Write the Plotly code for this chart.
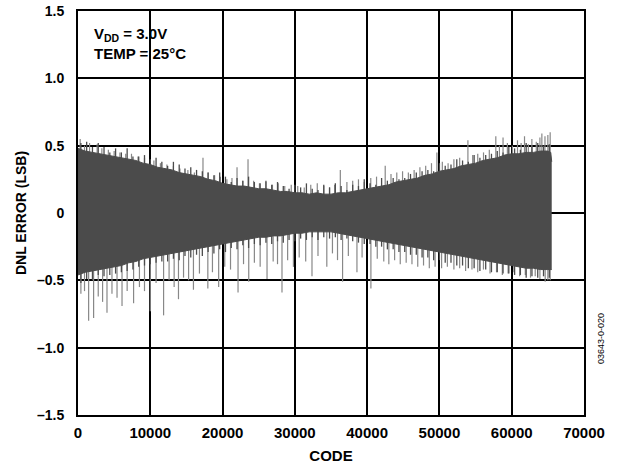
import plotly.graph_objects as go

# ---- data ----
env_codes = [0, 1000, 2000, 3000, 4000, 5000, 6000, 7000, 8000, 9000,
             10000, 11000, 12000, 13000, 14000, 15000, 16000, 17000, 18000, 19000,
             20000, 21000, 22000, 23000, 24000, 25000, 26000, 27000, 28000, 29000,
             30000, 31000, 32000, 33000, 34000, 35000, 36000, 37000, 38000, 39000,
             40000, 41000, 42000, 43000, 44000, 45000, 46000, 47000, 48000, 49000,
             50000, 51000, 52000, 53000, 54000, 55000, 56000, 57000, 58000, 59000,
             60000, 61000, 62000, 63000, 64000, 65000, 65400, 65535]
env_upper = [0.48, 0.46, 0.45, 0.44, 0.43, 0.42, 0.41, 0.40, 0.39, 0.37,
             0.36, 0.34, 0.33, 0.32, 0.30, 0.29, 0.28, 0.27, 0.25, 0.24,
             0.22, 0.21, 0.20, 0.20, 0.19, 0.18, 0.18, 0.17, 0.16, 0.16,
             0.15, 0.15, 0.14, 0.15, 0.14, 0.14, 0.15, 0.15, 0.16, 0.17,
             0.18, 0.19, 0.20, 0.21, 0.23, 0.24, 0.25, 0.26, 0.28, 0.29,
             0.31, 0.32, 0.33, 0.35, 0.36, 0.37, 0.39, 0.40, 0.41, 0.43,
             0.44, 0.44, 0.45, 0.45, 0.46, 0.46, 0.45, 0.38]
env_lower = [-0.46, -0.44, -0.43, -0.42, -0.41, -0.40, -0.39, -0.37, -0.36, -0.34,
             -0.33, -0.32, -0.31, -0.30, -0.29, -0.28, -0.27, -0.26, -0.25, -0.24,
             -0.23, -0.22, -0.21, -0.20, -0.19, -0.18, -0.18, -0.17, -0.17, -0.16,
             -0.15, -0.15, -0.14, -0.14, -0.14, -0.14, -0.15, -0.16, -0.17, -0.18,
             -0.19, -0.20, -0.21, -0.22, -0.23, -0.24, -0.25, -0.26, -0.27, -0.28,
             -0.29, -0.30, -0.31, -0.32, -0.33, -0.34, -0.35, -0.36, -0.37, -0.38,
             -0.39, -0.40, -0.41, -0.41, -0.42, -0.42, -0.42, -0.42]

# short spikes just beyond the dense band (texture of the band edge)
fine_codes = [400, 1200, 2000, 2800, 3600, 4400, 5200, 6000, 6800, 7600,
              8400, 9200, 10000, 10800, 11600, 12400, 13200, 14000, 14800, 15600,
              16400, 17200, 18000, 18800, 19600, 20400, 21200, 22000, 22800, 23600,
              24400, 25200, 26000, 26800, 27600, 28400, 29200, 30000, 30800, 31600,
              32400, 33200, 34000, 34800, 35600, 36400, 37200, 38000, 38800, 39600,
              40400, 41200, 42000, 42800, 43600, 44400, 45200, 46000, 46800, 47600,
              48400, 49200, 50000, 50800, 51600, 52400, 53200, 54000, 54800, 55600,
              56400, 57200, 58000, 58800, 59600, 60400, 61200, 62000, 62800, 63600,
              64400, 65200]
fine_up = [0.52, 0.53, 0.49, 0.52, 0.49, 0.45, 0.48, 0.45, 0.48, 0.42,
           0.42, 0.43, 0.40, 0.41, 0.38, 0.35, 0.38, 0.36, 0.33, 0.34,
           0.32, 0.31, 0.30, 0.28, 0.30, 0.27, 0.23, 0.26, 0.24, 0.27,
           0.23, 0.22, 0.24, 0.21, 0.23, 0.20, 0.18, 0.21, 0.19, 0.22,
           0.18, 0.17, 0.21, 0.19, 0.22, 0.20, 0.17, 0.21, 0.20, 0.25,
           0.22, 0.21, 0.26, 0.24, 0.26, 0.25, 0.26, 0.29, 0.30, 0.31,
           0.32, 0.31, 0.37, 0.35, 0.36, 0.40, 0.39, 0.38, 0.43, 0.41,
           0.43, 0.44, 0.46, 0.45, 0.49, 0.48, 0.47, 0.52, 0.49, 0.52,
           0.50, 0.51]
fine_dn = [-0.52, -0.49, -0.50, -0.46, -0.47, -0.46, -0.45, -0.44, -0.43, -0.42,
           -0.40, -0.39, -0.38, -0.37, -0.36, -0.36, -0.34, -0.35, -0.32, -0.33,
           -0.31, -0.32, -0.29, -0.30, -0.27, -0.29, -0.26, -0.27, -0.24, -0.26,
           -0.23, -0.24, -0.22, -0.23, -0.21, -0.22, -0.20, -0.21, -0.19, -0.20,
           -0.18, -0.20, -0.18, -0.19, -0.18, -0.20, -0.19, -0.21, -0.22, -0.23,
           -0.23, -0.25, -0.25, -0.27, -0.27, -0.29, -0.29, -0.31, -0.31, -0.33,
           -0.33, -0.35, -0.35, -0.37, -0.37, -0.39, -0.39, -0.41, -0.41, -0.43,
           -0.42, -0.44, -0.44, -0.45, -0.45, -0.46, -0.46, -0.48, -0.47, -0.48,
           -0.47, -0.48]

# long isolated spikes
spike_up_codes = [300, 900, 1600, 2650, 3300, 4200, 5000, 5800, 6600, 7400, 8300, 9200,
                  10500, 11400, 12300, 13200, 14100, 15200, 16100, 17290, 18000, 18900,
                  19700, 20600, 21300, 22000, 22800, 23520, 24300, 25100, 26000, 26900,
                  27700, 28600, 29500, 30400, 31300, 32200, 33100, 34000, 34800, 35500,
                  36290, 37200, 38000, 38800, 39600, 40500, 41300, 42500, 43300, 44100,
                  44900, 45700, 46500, 47300, 48100, 48900, 49650, 50400, 51200, 52000,
                  52800, 53940, 54600, 55300, 56100, 56900, 57800, 58300, 58800, 59400,
                  60100, 60800, 61300, 61770, 62300, 62790, 63400, 63900, 64170, 64600,
                  65000, 65320]
spike_up_vals = [0.55, 0.50, 0.52, 0.51, 0.48, 0.47, 0.46, 0.45, 0.44, 0.44, 0.42, 0.41,
                 0.39, 0.37, 0.36, 0.35, 0.33, 0.32, 0.30, 0.41, 0.30, 0.28,
                 0.27, 0.25, 0.26, 0.34, 0.24, 0.40, 0.24, 0.22, 0.23, 0.21,
                 0.22, 0.20, 0.21, 0.20, 0.19, 0.21, 0.22, 0.20, 0.19, 0.21,
                 0.32, 0.23, 0.24, 0.25, 0.23, 0.26, 0.27, 0.35, 0.29, 0.30,
                 0.31, 0.30, 0.32, 0.34, 0.35, 0.37, 0.45, 0.38, 0.37, 0.40,
                 0.41, 0.54, 0.43, 0.44, 0.45, 0.47, 0.57, 0.50, 0.56, 0.52,
                 0.50, 0.54, 0.52, 0.57, 0.51, 0.55, 0.53, 0.56, 0.59, 0.57,
                 0.58, 0.60]
spike_dn_codes = [400, 900, 1470, 2160, 2800, 3400, 4010, 4700, 5400, 6090, 6800, 7690,
                  8500, 9200, 10000, 10800, 11840, 12600, 13300, 13900, 14600, 15300,
                  15970, 16800, 17960, 18600, 19460, 20300, 21100, 22140, 22900, 23620,
                  24400, 25200, 26150, 27000, 27600, 28220, 29000, 29800, 30600, 31500,
                  32370, 33200, 34420, 35200, 35900, 36600, 37400, 38590, 39300, 40520,
                  41400, 42300, 43000, 43800, 44580, 45400, 46200, 47000, 47800, 48600,
                  49400, 50300, 51100, 52000, 52800, 53620, 54500, 55300, 56090, 57000,
                  57900, 58700, 59500, 60300, 61100, 61880, 62600, 63250, 63900, 64630,
                  65000, 65320]
spike_dn_vals = [-0.60, -0.58, -0.80, -0.78, -0.62, -0.66, -0.74, -0.60, -0.63, -0.69, -0.58, -0.67,
                 -0.55, -0.58, -0.73, -0.52, -0.76, -0.50, -0.55, -0.64, -0.48, -0.50,
                 -0.57, -0.45, -0.56, -0.44, -0.55, -0.40, -0.42, -0.59, -0.38, -0.51,
                 -0.37, -0.40, -0.49, -0.36, -0.38, -0.59, -0.35, -0.40, -0.33, -0.36,
                 -0.47, -0.32, -0.40, -0.30, -0.35, -0.51, -0.32, -0.44, -0.33, -0.56,
                 -0.34, -0.36, -0.38, -0.35, -0.38, -0.37, -0.38, -0.40, -0.39, -0.41,
                 -0.40, -0.41, -0.40, -0.42, -0.41, -0.43, -0.42, -0.44, -0.42, -0.45,
                 -0.44, -0.46, -0.45, -0.44, -0.47, -0.46, -0.48, -0.47, -0.49, -0.51,
                 -0.50, -0.50]

y_tickvals = [1.5, 1.0, 0.5, 0, -0.5, -1.0, -1.5]
y_ticktext = ["1.5", "1.0", "0.5", "0", "\u20130.5", "\u20131.0", "\u20131.5"]
x_tickvals = [0, 10000, 20000, 30000, 40000, 50000, 60000, 70000]
x_ticktext = ["0", "10000", "20000", "30000", "40000", "50000", "60000", "70000"]

FONT = "Liberation Sans, Arial, Helvetica, sans-serif"
BAND = "#4b4b4b"
SPIKE = "#888888"


def segments(codes, vals):
    xs, ys = [], []
    for c, v in zip(codes, vals):
        xs += [c, c, None]
        ys += [0, v, None]
    return xs, ys


lx, ly = segments(spike_up_codes + spike_dn_codes, spike_up_vals + spike_dn_vals)
fx, fy = segments(fine_codes + fine_codes, fine_up + fine_dn)

fig = go.Figure()
fig.add_trace(go.Scatter(x=lx, y=ly, mode="lines",
                         line=dict(color=SPIKE, width=1.2), hoverinfo="skip", showlegend=False))
fig.add_trace(go.Scatter(x=fx, y=fy, mode="lines",
                         line=dict(color=BAND, width=1.3), hoverinfo="skip", showlegend=False))
fig.add_trace(go.Scatter(x=env_codes, y=env_upper, mode="lines",
                         line=dict(color=BAND, width=1), showlegend=False))
fig.add_trace(go.Scatter(x=env_codes, y=env_lower, mode="lines", fill="tonexty",
                         fillcolor=BAND, line=dict(color=BAND, width=1), showlegend=False))

axis_common = dict(showgrid=True, gridcolor="black", gridwidth=1.6,
                   showline=True, linecolor="black", linewidth=2, mirror=True,
                   zeroline=False, ticks="", automargin=False)

fig.update_xaxes(range=[0, 70000], tickvals=x_tickvals, ticktext=x_ticktext,
                 ticklabelstandoff=3,
                 tickfont=dict(family=FONT, size=15, color="black", weight="bold"),
                 title=dict(text="CODE", font=dict(family=FONT, size=15, color="black", weight="bold"),
                            standoff=10),
                 **axis_common)
fig.update_yaxes(range=[-1.5, 1.5], tickvals=y_tickvals, ticktext=y_ticktext,
                 ticklabelstandoff=9,
                 tickfont=dict(family=FONT, size=14, color="black", weight="bold"),
                 title=dict(text="DNL ERROR (LSB)", font=dict(family=FONT, size=14, color="black", weight="bold"),
                            standoff=7),
                 **axis_common)

fig.add_annotation(xref="paper", yref="paper", x=0.027, y=0.97, xanchor="left", yanchor="top",
                   align="left", showarrow=False,
                   text="V<sub>DD</sub> = 3.0V<br>TEMP = 25\u00b0C",
                   font=dict(family=FONT, size=15, color="black", weight="bold"))
fig.add_annotation(xref="paper", yref="paper", x=1.035, y=0.19, xanchor="center", yanchor="middle",
                   textangle=-90, showarrow=False, text="03643-0-020",
                   font=dict(family=FONT, size=9, color="black"))

fig.update_layout(width=625, height=473, margin=dict(l=78, r=41, t=11, b=58),
                  plot_bgcolor="white", paper_bgcolor="white")

fig.write_html("out.html", config={"displayModeBar": False},
               post_script="document.body.style.margin='0';document.body.style.overflow='hidden';")
